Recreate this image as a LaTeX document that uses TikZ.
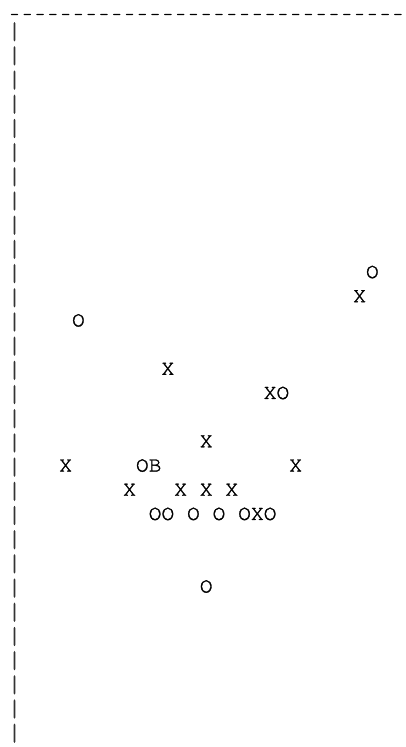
\documentclass[tikz,border=0pt]{standalone}
\usepackage[T1]{fontenc}
\usepackage{courier}
\newcommand\monotxt{\fontfamily{pcr}\fontsize{21.3pt}{24pt}\selectfont\special{pdf:literal 2 Tr 0.3 w}}
\newcommand\bartxt{\fontfamily{pcr}\fontsize{21.3pt}{24pt}\selectfont\special{pdf:literal 2 Tr 0.8 w}}
\begin{document}
\begin{tikzpicture}[txt/.style={anchor=base west, inner sep=0pt, outer sep=0pt, font=\monotxt, text=black},
  dashc/.style={anchor=base, inner sep=0pt, outer sep=0pt, font=\monotxt, text=black, xscale=0.72, text depth=0pt, text height=7pt},
  barc/.style={anchor=base, inner sep=0pt, outer sep=0pt, font=\bartxt, text=black!80, yscale=1.15, text height=14.5pt}]
\fill[white] (0,0) rectangle (406pt,-747pt);
\useasboundingbox (0,0) rectangle (406pt,-747pt);
\foreach \c in {0,...,30} {
  \node[dashc] (dash\c) at ({14.5pt+12.78pt*\c},-20.4pt) {-};
}
\begin{scope}[shift={(8.11pt,-36.1pt)}, x={(12.78pt,0pt)}, y={(0pt,-24.19pt)}]
\foreach \k in {0,...,29} {
  \node[barc] (bar\k) at ([yshift=-1.5pt]0.5,\k) {|};
}
\node[txt] (o1) at (28,10) {O};
\node[txt] (x1) at (27,11) {X};
\node[txt] (o2) at (5,12) {O};
\node[txt] (x2) at (12,14) {X};
\node[txt] (xo) at (20,15) {XO};
\node[txt] (x3) at (15,17) {X};
\node[txt] (x4) at (4,18) {X};
\node[txt] (ob) at (10,18) {OB};
\node[txt] (x5) at (22,18) {X};
\node[txt] (x6) at (9,19) {X};
\node[txt] (x7) at (13,19) {X};
\node[txt] (x8) at (15,19) {X};
\node[txt] (x9) at (17,19) {X};
\node[txt] (oo) at (11,20) {OO};
\node[txt] (o3) at (14,20) {O};
\node[txt] (o4) at (16,20) {O};
\node[txt] (oxo) at (18,20) {OXO};
\node[txt] (o5) at (15,23) {O};
\end{scope}
\end{tikzpicture}
\end{document}
